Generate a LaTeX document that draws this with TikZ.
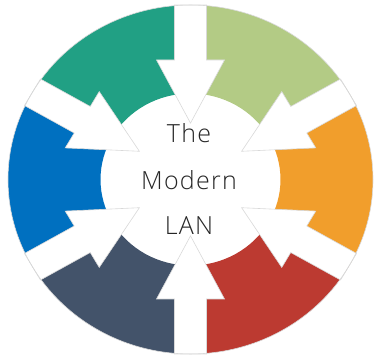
\documentclass[tikz,border=0pt]{standalone}
\usepackage{tikz}
\usepackage{fontspec}
\newfontfamily\lanfont[LetterSpace=5]{Open Sans Light}

\definecolor{segteal}{HTML}{21A084}
\definecolor{seglime}{HTML}{B3CB85}
\definecolor{segorange}{HTML}{F19E2C}
\definecolor{segred}{HTML}{BC3A31}
\definecolor{segslate}{HTML}{43536A}
\definecolor{segblue}{HTML}{0070C0}
\definecolor{rimgray}{HTML}{D9D9D9}

\tikzset{
  ringpart/.style={draw=none},
  inarrow/.style={fill=white, draw=rimgray, line width=0.6pt, line join=miter},
  lanword/.style={font=\lanfont\fontsize{25}{30}\selectfont, text=black!85, inner sep=0pt, anchor=base}
}

\newcommand{\arrowshape}{(182.5,16) -- (125,16) -- (125,34) -- (59,0) -- (125,-34) -- (125,-16) -- (182.5,-16) -- cycle}

\begin{document}
\begin{tikzpicture}[x=1pt, y=1pt]
\useasboundingbox (0,0) rectangle (375,364) ;

\begin{scope}[shift={(190.5,184.5)}, yscale=0.956]
\fill [ringpart, segteal] (90:182.5) arc [start angle=90, end angle=150, radius=182.5] -- (150:90) arc [start angle=150, end angle=90, radius=90] -- cycle ;
\fill [ringpart, seglime] (30:182.5) arc [start angle=30, end angle=90, radius=182.5] -- (90:90) arc [start angle=90, end angle=30, radius=90] -- cycle ;
\fill [ringpart, segorange] (-30:182.5) arc [start angle=-30, end angle=30, radius=182.5] -- (30:90) arc [start angle=30, end angle=-30, radius=90] -- cycle ;
\fill [ringpart, segred] (-90:182.5) arc [start angle=-90, end angle=-30, radius=182.5] -- (-30:90) arc [start angle=-30, end angle=-90, radius=90] -- cycle ;
\fill [ringpart, segslate] (-150:182.5) arc [start angle=-150, end angle=-90, radius=182.5] -- (-90:90) arc [start angle=-90, end angle=-150, radius=90] -- cycle ;
\fill [ringpart, segblue] (150:182.5) arc [start angle=150, end angle=210, radius=182.5] -- (210:90) arc [start angle=210, end angle=150, radius=90] -- cycle ;

\draw [inarrow, rotate=90] \arrowshape ;
\draw [inarrow, rotate=30] \arrowshape ;
\draw [inarrow, rotate=-30] \arrowshape ;
\draw [inarrow, rotate=-90] \arrowshape ;
\draw [inarrow, rotate=-150] \arrowshape ;
\draw [inarrow, rotate=150] \arrowshape ;

\draw [rimgray, line width=0.6pt] (0,0) circle [radius=182.5] ;
\end{scope}

\node [lanword] (the) at (189,221) {The} ;
\node [lanword] (modern) at (189,174) {Modern} ;
\node [lanword] (lan) at (189,129) {LAN} ;
\end{tikzpicture}
\end{document}
